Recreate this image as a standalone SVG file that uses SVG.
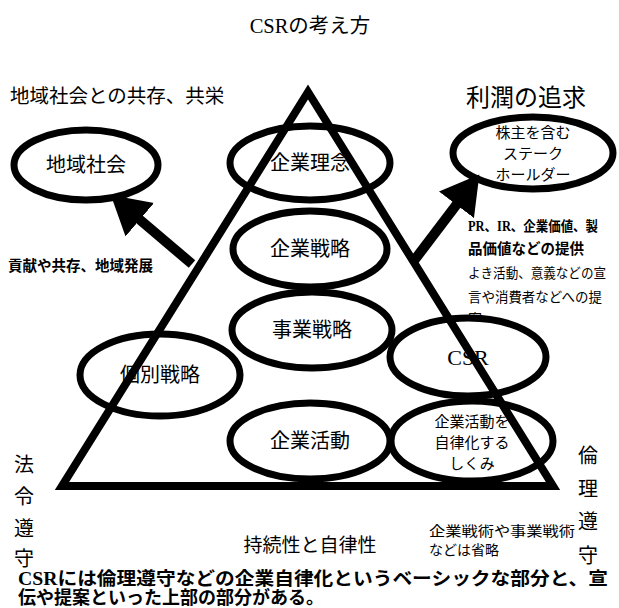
<svg xmlns="http://www.w3.org/2000/svg" width="619" height="608" viewBox="0 0 619 608">
<style>
text{font-family:"Liberation Serif","Noto Sans CJK JP",serif;fill:#000}
.g{font-family:"Noto Sans CJK JP","Liberation Sans",sans-serif}
.c{text-anchor:middle}
.b{font-weight:bold}
.el{fill:#fff;stroke:#000;stroke-width:7}
.shaft{stroke:#000;stroke-width:10;fill:none}
</style>
<defs>
<marker id="ah" markerUnits="userSpaceOnUse" markerWidth="40" markerHeight="44" refX="1" refY="22" orient="auto">
<path d="M0,0 L38,22 L0,44 Z" fill="#000"/>
</marker>
</defs>
<rect width="619" height="608" fill="#fff"/>
<text class="c" x="310" y="33" font-size="20.5">CSRの考え方</text>
<text class="g" x="10" y="103" font-size="19.5">地域社会との共存、共栄</text>
<text class="g" x="466" y="106" font-size="24">利潤の追求</text>
<text class="b" x="468" y="231" font-size="14" textLength="130" lengthAdjust="spacingAndGlyphs">PR、IR、企業価値、製</text>
<text class="g b" x="468" y="254" font-size="14.5">品価値などの提供</text>
<text class="g" x="468" y="278" font-size="13.5" textLength="138" lengthAdjust="spacingAndGlyphs">よき活動、意義などの宣</text>
<text class="g" x="468" y="302" font-size="13.5" textLength="134" lengthAdjust="spacingAndGlyphs">言や消費者などへの提</text>
<text class="g" x="468" y="324" font-size="14">案</text>
<text class="g b" x="8" y="271" font-size="14.5" textLength="145" lengthAdjust="spacingAndGlyphs">貢献や共存、地域発展</text>
<g id="chiiki"><ellipse class="el" cx="86" cy="165" rx="72" ry="35"/><text class="g c" x="86" y="172" font-size="20">地域社会</text></g>
<g id="rinen"><ellipse class="el" cx="310" cy="163" rx="80" ry="37"/><text class="g c" x="310" y="170" font-size="20">企業理念</text></g>
<g id="stake"><ellipse class="el" cx="533" cy="153" rx="80" ry="36"/><text class="g c" font-size="15"><tspan x="533" y="138">株主を含む</tspan><tspan x="533" y="159">ステーク</tspan><tspan x="533" y="180">ホールダー</tspan></text></g>
<g id="kigyousenryaku"><ellipse class="el" cx="310" cy="249" rx="77" ry="38"/><text class="g c" x="310" y="256" font-size="20">企業戦略</text></g>
<g id="jigyousenryaku"><ellipse class="el" cx="312" cy="330" rx="80" ry="38"/><text class="g c" x="312" y="337" font-size="20">事業戦略</text></g>
<g id="kobetsu"><ellipse class="el" cx="160" cy="375" rx="80" ry="41"/><text class="g c" x="160" y="382" font-size="20">個別戦略</text></g>
<g id="csr"><ellipse class="el" cx="468" cy="357" rx="78" ry="39"/><text class="c" x="468" y="365" font-size="22">CSR</text></g>
<g id="katsudou"><ellipse class="el" cx="310" cy="441" rx="80" ry="38"/><text class="g c" x="310" y="448" font-size="20">企業活動</text></g>
<g id="shikumi"><ellipse class="el" cx="472" cy="441" rx="81" ry="40"/><text class="g c" font-size="15"><tspan x="472" y="427">企業活動を</tspan><tspan x="472" y="448">自律化する</tspan><tspan x="472" y="469">しくみ</tspan></text></g>
<g id="pyramid"><path d="M308,92 L62,486 L553,486 Z" fill="none" stroke="#000" stroke-width="8" stroke-linejoin="miter" stroke-miterlimit="10"/></g>
<g id="connectors">
<line class="shaft" x1="192" y1="264" x2="139" y2="219" marker-end="url(#ah)"/>
<line class="shaft" x1="413" y1="262" x2="457" y2="204" marker-end="url(#ah)"/>
</g>
<text class="g" font-size="20"><tspan x="14" y="472">法</tspan><tspan x="14" y="504">令</tspan><tspan x="14" y="536">遵</tspan><tspan x="14" y="566">守</tspan></text>
<text class="g" font-size="20"><tspan x="578" y="463">倫</tspan><tspan x="578" y="496">理</tspan><tspan x="578" y="529">遵</tspan><tspan x="578" y="563">守</tspan></text>
<text class="g" font-size="14"><tspan x="429" y="536" textLength="146" lengthAdjust="spacingAndGlyphs">企業戦術や事業戦術</tspan><tspan x="429" y="555">などは省略</tspan></text>
<text class="g c" x="310" y="552" font-size="19">持続性と自律性</text>
<text class="b" font-size="18"><tspan x="18" y="585" textLength="590" lengthAdjust="spacingAndGlyphs">CSRには倫理遵守などの企業自律化というベーシックな部分と、宣</tspan><tspan x="18" y="604">伝や提案といった上部の部分がある。</tspan></text>
</svg>
